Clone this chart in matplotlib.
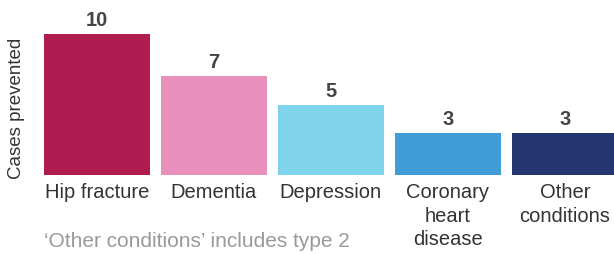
import matplotlib
matplotlib.use('Agg')
from matplotlib import pyplot as plt
import matplotlib.transforms as mtransforms

plt.rcParams['font.family'] = ['Liberation Sans', 'DejaVu Sans']

categories = ['Hip fracture', 'Dementia', 'Depression', 'Coronary\nheart\ndisease', 'Other\nconditions']
cases = [10, 7, 5, 3, 3]
colors = ['#B01C50', '#E88FBB', '#7FD3EA', '#409CD6', '#253570']

fig = plt.figure(figsize=(6.14, 2.55), dpi=100)
ax = fig.add_axes([44/614, (255-176)/255, 570/614, 176/255])

x = list(range(len(cases)))
ax.bar(x, cases, width=0.906, color=colors)
ax.set_xlim(-0.453, 4.42)
ax.set_ylim(0, 10 * 176 / 141)

for xi, v in zip(x, cases):
    ax.text(xi, v + 0.35, str(v), ha='center', va='bottom', fontsize=14.5,
            fontweight='bold', color='#444444')

trans = mtransforms.blended_transform_factory(ax.transData, ax.transAxes)
for xi, lab in zip(x, categories):
    ax.text(xi, -0.04, lab, transform=trans, ha='center', va='top',
            fontsize=14.5, color='#333333', linespacing=1.3)

ax.set_xticks([])
ax.set_yticks([])
for s in ax.spines.values():
    s.set_visible(False)

fig.text(17/614, 1 - 108/255, 'Cases prevented', rotation=90, ha='center', va='center',
         fontsize=13.5, color='#333333')
fig.text(44/614, 1 - 242/255, '\u2018Other conditions\u2019 includes type 2', ha='left', va='center',
         fontsize=15, color='#999999')

fig.savefig('out.png', dpi=100)
